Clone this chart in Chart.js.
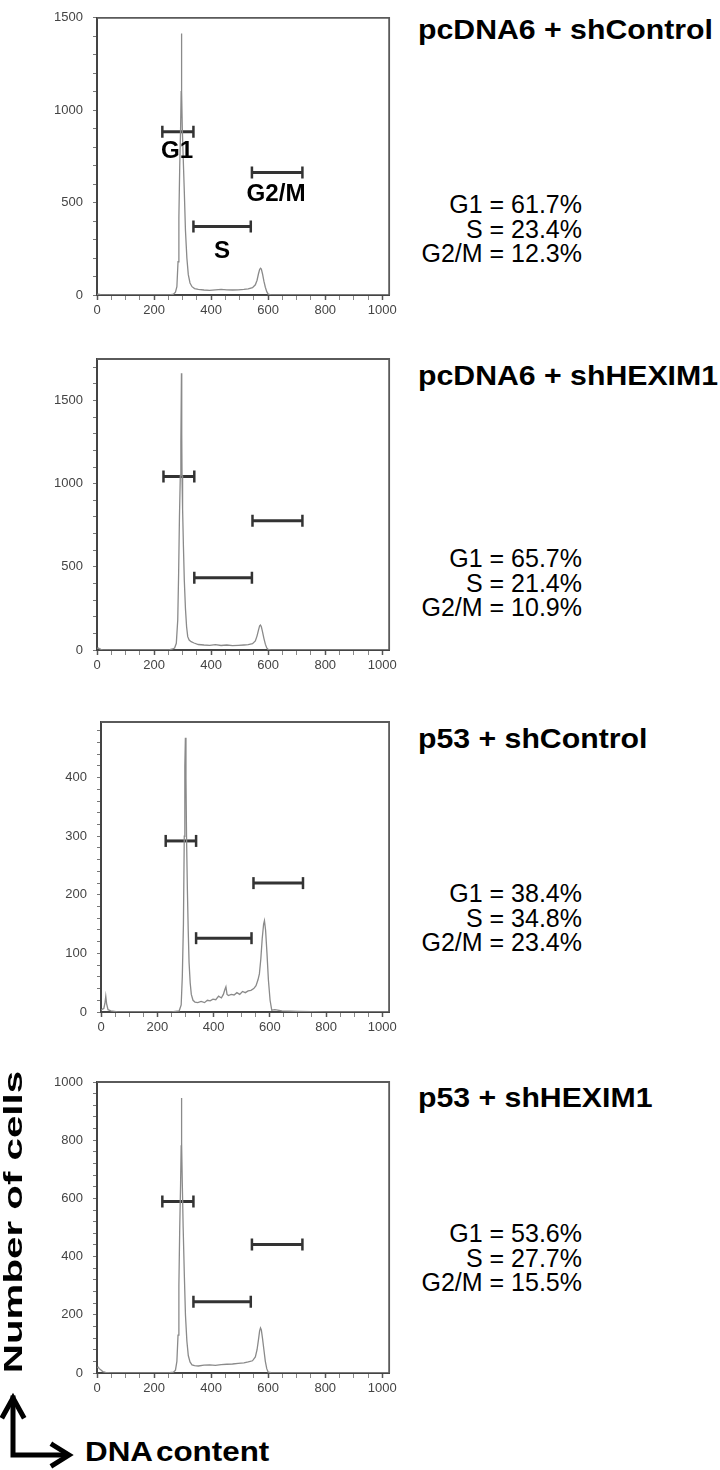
<!DOCTYPE html>
<html><head><meta charset="utf-8">
<script src="https://cdn.jsdelivr.net/npm/chart.js@4.4.1/dist/chart.umd.min.js"></script>
<style>
html,body{margin:0;padding:0;background:#fff;}
body{width:720px;height:1470px;position:relative;overflow:hidden;font-family:"Liberation Sans",Arial,sans-serif;color:#000;}
canvas{position:absolute;left:0;}
.title{position:absolute;left:418px;font-weight:bold;font-size:27px;line-height:1;white-space:nowrap;transform-origin:0 50%;transform:translateY(-50%) scaleX(1.12);}
.stats{position:absolute;right:138px;text-align:right;font-size:25px;line-height:24.5px;white-space:nowrap;}
.gl{position:absolute;font-weight:bold;font-size:23px;line-height:1;white-space:nowrap;transform:translate(-50%,-50%) scaleX(1.05);}
.ylab{position:absolute;left:13px;top:1222px;font-weight:bold;font-size:26px;line-height:1;white-space:nowrap;transform:translate(-50%,-50%) rotate(-90deg) scaleX(1.55);}
.xlab{position:absolute;left:85px;top:1452px;font-weight:bold;font-size:28px;line-height:1;white-space:nowrap;transform-origin:0 50%;transform:translateY(-50%) scaleX(1.12);word-spacing:-4px;}
svg{position:absolute;left:0;top:0;}
</style>
</head>
<body>
<canvas id="c1" width="400" height="325" style="top:0px"></canvas>
<canvas id="c2" width="400" height="340" style="top:340px"></canvas>
<canvas id="c3" width="400" height="352" style="top:690px"></canvas>
<canvas id="c4" width="400" height="353" style="top:1050px"></canvas>
<div id="texts"></div>
<svg width="100" height="1470" viewBox="0 0 100 1470">
  <g stroke="#000" stroke-width="5" fill="none" stroke-linecap="square" stroke-linejoin="miter">
    <polyline points="13,1398 13,1455 66,1455"/>
    <polyline points="3,1416 13,1398 23,1416"/>
    <polyline points="53,1445 69,1455 53,1465"/>
  </g>
</svg>
<script>
// ---------- DATA ----------
const xTickLabels = [0, 200, 400, 600, 800, 1000];
const xMax = 1024;

const panelTitles = ["pcDNA6 + shControl", "pcDNA6 + shHEXIM1", "p53 + shControl", "p53 + shHEXIM1"];
const g1Pct  = ["61.7", "65.7", "38.4", "53.6"];
const sPct   = ["23.4", "21.4", "34.8", "27.7"];
const g2mPct = ["12.3", "10.9", "23.4", "15.5"];
const gateNames = ["G1", "S", "G2/M"];

// Panel 1: pcDNA6 + shControl
const p1X = [0,6,12,20,40,100,200,255,268,275,280,284,287,290,293,295,296,297,299,302,306,310,315,320,326,333,342,355,375,395,415,435,455,475,495,515,530,545,555,561,566,570,573,576,580,585,590,595,600,610,650,800,1024];
const p1Y = [3,5,2,1,0,0,0,1,4,15,45,180,420,700,900,1100,1415,1100,900,750,560,350,200,110,65,45,35,30,27,25,28,30,28,27,28,30,33,40,55,80,115,138,145,140,115,75,42,18,5,1,0,0,0];
const p1YMax = 1500;
const p1YLabels = [0, 500, 1000, 1500];
const p1YMinor = 100;
const p1GateX1 = [229, 338, 543];
const p1GateX2 = [338, 539, 720];
const p1GateY  = [884, 371, 663];

// Panel 2: pcDNA6 + shHEXIM1
const p2X = [0,4,8,14,20,40,100,200,255,265,272,278,283,286,289,292,294,296,297,298,300,303,306,310,314,318,323,330,340,355,375,395,415,435,455,475,495,515,530,545,555,561,566,570,573,576,580,585,590,595,600,610,650,800,1024];
const p2Y = [10,12,8,4,1,0,0,0,2,6,12,40,180,450,800,1050,1250,1665,1300,1050,850,620,420,250,140,80,60,50,42,33,30,28,32,27,30,26,28,30,32,38,55,85,120,145,150,140,110,70,35,12,3,1,0,0,0];
const p2YMax = 1750;
const p2YLabels = [0, 500, 1000, 1500];
const p2YMinor = 100;
const p2GateX1 = [233, 341, 545];
const p2GateX2 = [341, 543, 720];
const p2GateY  = [1044, 434, 778];

// Panel 3: p53 + shControl
const p3X = [0,5,10,14,17,20,25,35,60,150,250,278,285,289,293,296,298,300,302,304,307,310,313,317,321,327,334,344,356,368,378,388,398,408,418,428,435,440,444,448,453,463,473,483,493,503,513,523,533,543,551,558,563,568,573,578,581,585,590,595,601,607,618,643,700,800,1024];
const p3Y = [3,5,6,15,27,14,4,2,0,0,0,2,12,60,150,300,420,468,400,300,210,140,85,50,30,20,17,16,18,16,20,19,22,21,27,24,30,38,43,30,28,30,29,33,30,35,33,36,37,40,45,55,65,90,125,150,156,140,100,55,20,3,4,2,1,0,0];
const p3YMax = 495;
const p3YLabels = [0, 100, 200, 300, 400];
const p3YMinor = 20;
const p3GateX1 = [230, 338, 542];
const p3GateX2 = [338, 535, 718];
const p3GateY  = [292, 126, 220];

// Panel 4: p53 + shHEXIM1
const p4X = [0,4,8,14,20,30,50,100,200,255,268,275,280,284,287,290,293,295,296,297,299,302,306,310,315,320,326,333,342,355,375,395,415,435,455,475,495,515,530,545,555,561,566,570,573,576,580,585,590,595,600,610,650,800,1024];
const p4Y = [18,20,15,10,5,2,0,0,0,1,3,10,40,130,300,500,650,780,945,790,650,500,340,200,110,60,38,28,25,24,27,28,26,29,30,31,33,35,38,42,55,80,115,145,155,148,120,80,40,15,3,1,0,0,0];
const p4YMax = 1000;
const p4YLabels = [0, 200, 400, 600, 800, 1000];
const p4YMinor = 40;
const p4GateX1 = [229, 338, 543];
const p4GateX2 = [338, 539, 720];
const p4GateY  = [589, 245, 442];

// ---------- LAYOUT (pixels) ----------
const panels = [
  {id:'c1', xs:p1X, ys:p1Y, yMax:p1YMax, yLabels:p1YLabels, yMinor:p1YMinor, gx1:p1GateX1, gx2:p1GateX2, gy:p1GateY, left:97, padTop:5,  padRight:10, titleY:30,   statsTop:192},
  {id:'c2', xs:p2X, ys:p2Y, yMax:p2YMax, yLabels:p2YLabels, yMinor:p2YMinor, gx1:p2GateX1, gx2:p2GateX2, gy:p2GateY, left:97, padTop:19, padRight:10, titleY:376,  statsTop:546},
  {id:'c3', xs:p3X, ys:p3Y, yMax:p3YMax, yLabels:p3YLabels, yMinor:p3YMinor, gx1:p3GateX1, gx2:p3GateX2, gy:p3GateY, left:101,padTop:32, padRight:9,  titleY:739,  statsTop:881},
  {id:'c4', xs:p4X, ys:p4Y, yMax:p4YMax, yLabels:p4YLabels, yMinor:p4YMinor, gx1:p4GateX1, gx2:p4GateX2, gy:p4GateY, left:97, padTop:32, padRight:10, titleY:1098, statsTop:1221}
];

const framePlugin = {
  id: 'frame',
  afterDraw(chart) {
    const {ctx, chartArea: a} = chart;
    ctx.save();
    ctx.strokeStyle = '#5a5a5a';
    ctx.lineWidth = 1.8;
    ctx.beginPath();
    ctx.moveTo(a.left, a.top);
    ctx.lineTo(a.right, a.top);
    ctx.lineTo(a.right, a.bottom);
    ctx.stroke();
    ctx.restore();
  }
};

const tickFont = {family: '"Liberation Sans", Arial, sans-serif', size: 13};

panels.forEach((p) => {
  const datasets = [{
    data: p.xs.map((x, i) => ({x: x, y: p.ys[i]})),
    borderColor: '#8a8a8a',
    borderWidth: 1.3,
    pointRadius: 0,
    tension: 0,
    fill: false
  }];
  p.gx1.forEach((x1, i) => {
    datasets.push({
      data: [{x: x1, y: p.gy[i]}, {x: p.gx2[i], y: p.gy[i]}],
      borderColor: '#333',
      borderWidth: 3,
      pointStyle: 'line',
      rotation: 90,
      pointRadius: 6,
      pointBorderWidth: 2.5,
      pointBorderColor: '#333',
      pointBackgroundColor: '#333',
      fill: false
    });
  });
  new Chart(document.getElementById(p.id), {
    type: 'line',
    data: {datasets},
    plugins: [framePlugin],
    options: {
      responsive: false,
      animation: false,
      devicePixelRatio: 1,
      layout: {padding: {top: p.padTop, right: p.padRight, left: 0, bottom: 0}},
      plugins: {legend: {display: false}, tooltip: {enabled: false}, title: {display: false}},
      scales: {
        x: {
          type: 'linear', min: 0, max: xMax,
          afterBuildTicks: (s) => {
            const t = [];
            for (let v = 0; v <= 1000; v += 50) t.push({value: v});
            s.ticks = t;
          },
          afterFit: (s) => { s.height = 30; },
          ticks: {
            autoSkip: false, maxRotation: 0, minRotation: 0, padding: 3,
            color: '#444', font: tickFont,
            callback: (v) => xTickLabels.includes(v) ? String(v) : ''
          },
          grid: {drawOnChartArea: false, drawTicks: true, tickLength: 5,
                 tickColor: (c) => (c.tick && xTickLabels.includes(c.tick.value)) ? '#555' : '#888',
                 tickWidth: (c) => (c.tick && xTickLabels.includes(c.tick.value)) ? 1.5 : 1},
          border: {display: true, color: '#444', width: 2}
        },
        y: {
          type: 'linear', min: 0, max: p.yMax,
          afterBuildTicks: (s) => {
            const t = [];
            for (let v = 0; v <= p.yMax + 0.001; v += p.yMinor) t.push({value: v});
            s.ticks = t;
          },
          afterFit: (s) => { s.width = p.left; },
          ticks: {
            autoSkip: false, padding: 10, color: '#444', font: tickFont,
            callback: (v) => p.yLabels.includes(v) ? String(v) : ''
          },
          grid: {drawOnChartArea: false, drawTicks: true, tickLength: 4, tickColor: '#777', tickWidth: 1},
          border: {display: true, color: '#444', width: 2}
        }
      }
    }
  });
});

// ---------- TEXT ----------
const texts = document.getElementById('texts');
panels.forEach((p, i) => {
  const t = document.createElement('div');
  t.className = 'title';
  t.style.top = p.titleY + 'px';
  t.textContent = panelTitles[i];
  texts.appendChild(t);
  const s = document.createElement('div');
  s.className = 'stats';
  s.style.top = p.statsTop + 'px';
  s.innerHTML = 'G1 = ' + g1Pct[i] + '%<br>S = ' + sPct[i] + '%<br>G2/M = ' + g2mPct[i] + '%';
  texts.appendChild(s);
});
// gate labels on first panel
const gateLabelPos = [[177, 150], [222, 250], [276, 193]];
gateNames.forEach((n, i) => {
  const d = document.createElement('div');
  d.className = 'gl';
  d.style.left = gateLabelPos[i][0] + 'px';
  d.style.top = gateLabelPos[i][1] + 'px';
  d.textContent = n;
  texts.appendChild(d);
});
const yl = document.createElement('div');
yl.className = 'ylab'; yl.textContent = 'Number of cells';
texts.appendChild(yl);
const xl = document.createElement('div');
xl.className = 'xlab'; xl.textContent = 'DNA content';
texts.appendChild(xl);
</script>
</body></html>
